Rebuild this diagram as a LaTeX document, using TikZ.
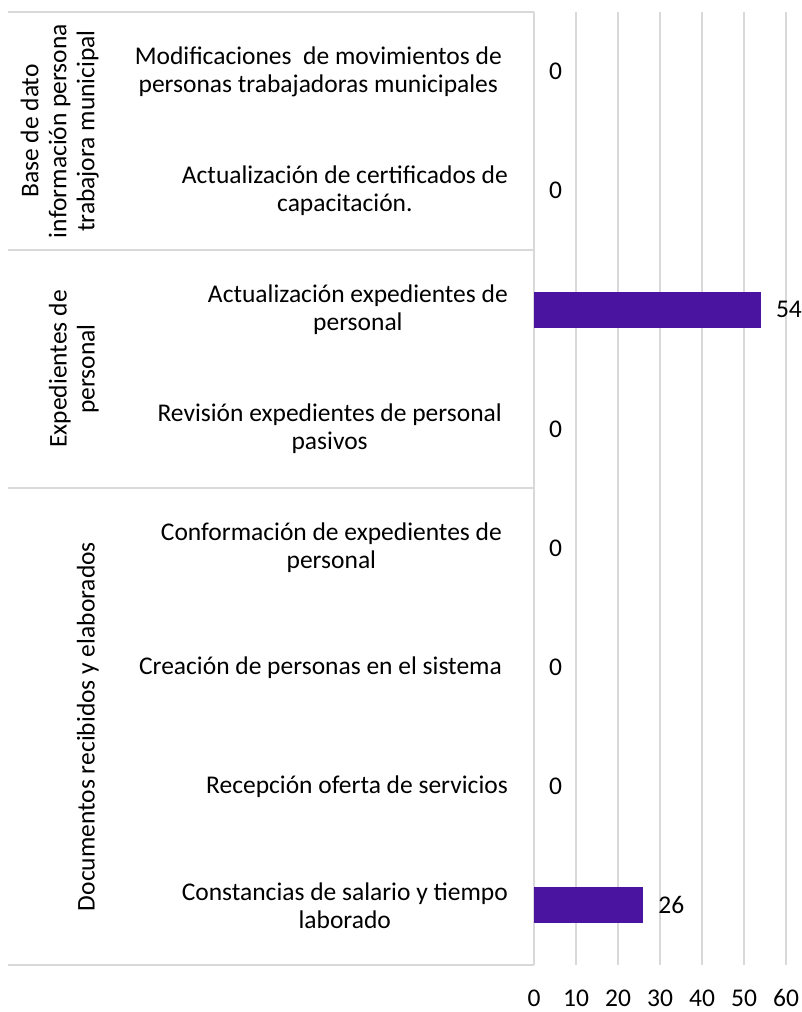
\documentclass[tikz,border=0pt]{standalone}
\usepackage{fontspec}
\setmainfont{Carlito}
\definecolor{barviolet}{RGB}{75,20,160}
\definecolor{gridgray}{RGB}{217,217,217}
\begin{document}
\begin{tikzpicture}[
        x=1pt, y=-1pt,
        every node/.style={font=\fontsize{25.5}{28}\selectfont, inner sep=0pt},
        catlabel/.style={anchor=east, align=center},
        grplabel/.style={rotate=90, anchor=south, align=center},
        vallabel/.style={anchor=west},
        gridline/.style={draw=gridgray, line width=1.5pt},
    ]
    \useasboundingbox (0,0) rectangle (801,1012);

    % grid and axis
    \foreach \v in {0,10,...,60}{
        \draw[gridline] (534+4.2*\v,12) -- (534+4.2*\v,965);
        \node (tick\v) at (534+4.2*\v,998) {\v};
    }
    \foreach \y in {12,250,488,965}
        \draw[gridline] (8,\y) -- (534,\y);

    % groups
    \node[grplabel] (base) at (99,131) {Base de dato\\información persona\\trabajora municipal};
    \node[grplabel] (expedientes) at (99,369) {Expedientes de\\personal};
    \node[grplabel] (documentos) at (99,726.5) {Documentos recibidos y elaborados};

    % categories
    \node[catlabel] (cat1) at (502,71.6) {Modificaciones\ \ de movimientos de\\personas trabajadoras municipales};
    \node[catlabel] (cat2) at (508,190.7) {Actualización de certificados de\\capacitación.};
    \node[catlabel] (cat3) at (508,309.8) {Actualización expedientes de\\personal};
    \node[catlabel] (cat4) at (502,429) {Revisión expedientes de personal\\pasivos};
    \node[catlabel] (cat5) at (502,548) {Conformación de expedientes de\\personal};
    \node[catlabel] (cat6) at (502,667.2) {Creación de personas en el sistema};
    \node[catlabel] (cat7) at (508,786.3) {Recepción oferta de servicios};
    \node[catlabel] (cat8) at (508,905.4) {Constancias de salario y tiempo\\laborado};

    % bars and values
    \foreach \i/\v in {1/0,2/0,3/54,4/0,5/0,6/0,7/0,8/26}{
        \pgfmathsetmacro{\yc}{12+(\i-0.5)*119.125}
        \ifnum\v>0
            \fill[barviolet] (534,\yc-18) rectangle (534+4.2*\v,\yc+18);
        \fi
        \node[vallabel] (val\i) at (549+4.2*\v,\yc) {\v};
    }
\end{tikzpicture}
\end{document}
